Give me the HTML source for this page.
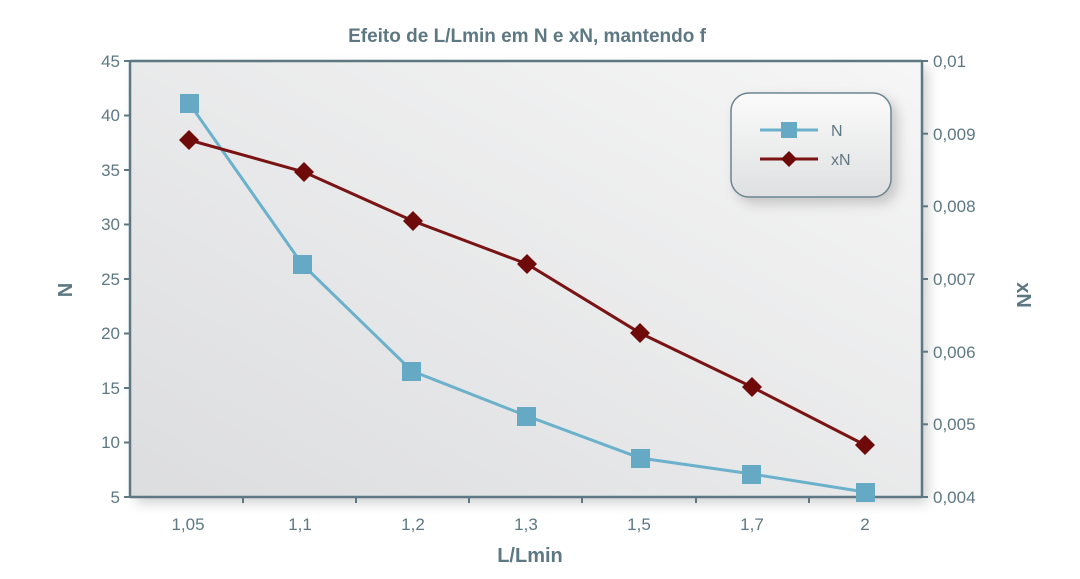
<!DOCTYPE html>
<html><head><meta charset="utf-8"><style>
body{margin:0;background:#fff;}
svg text{font-family:"Liberation Sans",sans-serif;fill:#5d7883;}
</style></head><body>
<svg width="1080" height="574" xmlns="http://www.w3.org/2000/svg">
<defs>
<linearGradient id="bg" x1="0" y1="1" x2="1" y2="0">
<stop offset="0" stop-color="#dcdddf"/><stop offset="1" stop-color="#f6f6f6"/></linearGradient>
<linearGradient id="lg" x1="0" y1="0" x2="0" y2="1">
<stop offset="0" stop-color="#fbfbfb"/><stop offset="1" stop-color="#dfe0e1"/></linearGradient>
<filter id="sh" x="-10%" y="-10%" width="130%" height="130%"><feDropShadow dx="6" dy="6" stdDeviation="6" flood-color="#000" flood-opacity="0.18"/></filter>
</defs>
<text x="527" y="42" text-anchor="middle" font-size="19" font-weight="bold">Efeito de L/Lmin em N e xN, mantendo f</text>
<rect x="130" y="61" width="792" height="436" fill="url(#bg)" filter="url(#sh)"/>
<g stroke="#5d7883" stroke-width="2.5" fill="none">
<line x1="130" y1="61" x2="922" y2="61"/>
<line x1="130" y1="61" x2="130" y2="497"/>
<line x1="922" y1="61" x2="922" y2="497"/>
<line x1="130" y1="497" x2="922" y2="497"/>
</g>
<g stroke="#5d7883" stroke-width="2">
<line x1="124" y1="61" x2="130" y2="61"/><line x1="124" y1="115.5" x2="130" y2="115.5"/><line x1="124" y1="170" x2="130" y2="170"/><line x1="124" y1="224.5" x2="130" y2="224.5"/><line x1="124" y1="279" x2="130" y2="279"/><line x1="124" y1="333.5" x2="130" y2="333.5"/><line x1="124" y1="388" x2="130" y2="388"/><line x1="124" y1="442.5" x2="130" y2="442.5"/><line x1="124" y1="497" x2="130" y2="497"/>
<line x1="922" y1="61" x2="928" y2="61"/><line x1="922" y1="133.7" x2="928" y2="133.7"/><line x1="922" y1="206.3" x2="928" y2="206.3"/><line x1="922" y1="279" x2="928" y2="279"/><line x1="922" y1="351.7" x2="928" y2="351.7"/><line x1="922" y1="424.3" x2="928" y2="424.3"/><line x1="922" y1="497" x2="928" y2="497"/>
<line x1="243" y1="497" x2="243" y2="503"/><line x1="356" y1="497" x2="356" y2="503"/><line x1="469" y1="497" x2="469" y2="503"/><line x1="582" y1="497" x2="582" y2="503"/><line x1="696" y1="497" x2="696" y2="503"/><line x1="809" y1="497" x2="809" y2="503"/>
</g>
<g font-size="17" text-anchor="end">
<text x="120" y="67">45</text><text x="120" y="121">40</text><text x="120" y="176">35</text><text x="120" y="230">30</text><text x="120" y="285">25</text><text x="120" y="339">20</text><text x="120" y="394">15</text><text x="120" y="448">10</text><text x="120" y="503">5</text>
</g>
<g font-size="17">
<text x="933" y="67">0,01</text><text x="933" y="140">0,009</text><text x="933" y="212">0,008</text><text x="933" y="285">0,007</text><text x="933" y="358">0,006</text><text x="933" y="430">0,005</text><text x="933" y="503">0,004</text>
</g>
<g font-size="17" text-anchor="middle">
<text x="188" y="530">1,05</text><text x="300" y="530">1,1</text><text x="413" y="530">1,2</text><text x="526" y="530">1,3</text><text x="639" y="530">1,5</text><text x="752" y="530">1,7</text><text x="865" y="530">2</text>
</g>
<text x="530" y="562" text-anchor="middle" font-size="20" font-weight="bold">L/Lmin</text>
<text transform="translate(72,290) rotate(-90)" text-anchor="middle" font-size="20" font-weight="bold">N</text>
<text transform="translate(1017,295) rotate(90)" text-anchor="middle" font-size="20" font-weight="bold">xN</text>
<polyline points="189,103 302,264 412,371 527,416 640,458 752,474 865,492" fill="none" stroke="#6bb1cc" stroke-width="3"/>
<g fill="#65a9c5">
<rect x="180" y="94" width="19" height="19"/><rect x="293" y="255" width="19" height="19"/><rect x="402" y="362" width="19" height="19"/><rect x="517" y="407" width="19" height="19"/><rect x="631" y="449" width="19" height="19"/><rect x="742" y="465" width="19" height="19"/><rect x="856" y="483" width="19" height="19"/>
</g>
<polyline points="189,140 304,172 413,221 527,264 640,333 752,387 865,445" fill="none" stroke="#7a1414" stroke-width="3"/>
<g fill="#6e0a0a">
<polygon points="189,130 199,140 189,150 179,140"/><polygon points="304,162 314,172 304,182 294,172"/><polygon points="413,211 423,221 413,231 403,221"/><polygon points="527,254 537,264 527,274 517,264"/><polygon points="640,323 650,333 640,343 630,333"/><polygon points="752,377 762,387 752,397 742,387"/><polygon points="865,435 875,445 865,455 855,445"/>
</g>
<rect x="731" y="93" width="160" height="104" rx="18" fill="url(#lg)" stroke="#6b8590" stroke-width="1.5" filter="url(#sh)"/>
<line x1="760" y1="130" x2="818" y2="130" stroke="#6bb1cc" stroke-width="3"/>
<rect x="781" y="122" width="16" height="16" fill="#65a9c5"/>
<text x="831" y="136" font-size="16">N</text>
<line x1="760" y1="159" x2="818" y2="159" stroke="#7a1414" stroke-width="3"/>
<polygon points="789,151 797,159 789,167 781,159" fill="#6e0a0a"/>
<text x="831" y="165" font-size="16">xN</text>
</svg>
</body></html>
